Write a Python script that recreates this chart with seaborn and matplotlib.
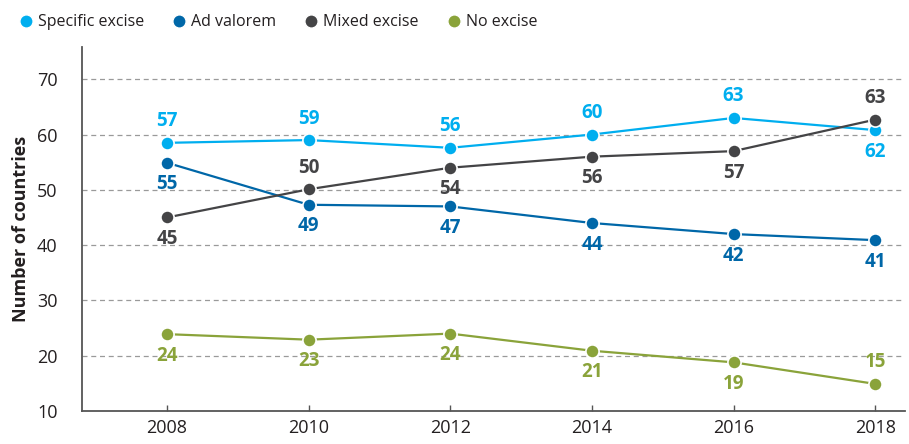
import pandas as pd
import seaborn as sns
import matplotlib.pyplot as plt

# Values as plotted in the reference, plus the labels printed next to each point
years = [2008, 2010, 2012, 2014, 2016, 2018]
specific_excise = [58.5, 59.0, 57.6, 60.0, 63.0, 60.8]
ad_valorem = [54.9, 47.3, 47.0, 44.0, 42.0, 40.9]
mixed_excise = [45.0, 50.1, 54.0, 56.0, 57.0, 62.7]
no_excise = [23.9, 22.9, 24.0, 20.9, 18.8, 14.9]

specific_labels = [57, 59, 56, 60, 63, 62]
ad_valorem_labels = [55, 49, 47, 44, 42, 41]
mixed_labels = [45, 50, 54, 56, 57, 63]
no_excise_labels = [24, 23, 24, 21, 19, 15]

series_names = ['Specific excise', 'Ad valorem', 'Mixed excise', 'No excise']
colors = ['#00AEEF', '#0067A8', '#444446', '#8AA33A']

# +1 = label above the point, -1 = label below
specific_side = [1, 1, 1, 1, 1, -1]
ad_valorem_side = [-1, -1, -1, -1, -1, -1]
mixed_side = [-1, 1, -1, -1, -1, 1]
no_excise_side = [-1, -1, -1, -1, -1, 1]

values = [specific_excise, ad_valorem, mixed_excise, no_excise]
labels = [specific_labels, ad_valorem_labels, mixed_labels, no_excise_labels]
sides = [specific_side, ad_valorem_side, mixed_side, no_excise_side]

df = pd.DataFrame({
    'year': years * 4,
    'value': specific_excise + ad_valorem + mixed_excise + no_excise,
    'series': [s for s in series_names for _ in years],
})

sns.set_style("white")
plt.rcParams['font.family'] = ['Open Sans', 'DejaVu Sans']

fig = plt.figure(figsize=(9.09, 4.44), dpi=100)
ax = fig.add_axes([0.0902, 0.0743, 0.9054, 0.8207])

sns.lineplot(data=df, x='year', y='value', hue='series', hue_order=series_names,
             palette=colors, marker='o', markersize=9.5, markeredgecolor='white',
             markeredgewidth=1.2, linewidth=1.6, ax=ax, legend=False, zorder=3)

for vals, labs, side, col in zip(values, labels, sides, colors):
    for x, v, lab, s in zip(years, vals, labs, side):
        ax.annotate(str(lab), (x, v), xytext=(0, 15.5 * s), textcoords='offset points',
                    ha='center', va='center', color=col, fontsize=13.5,
                    fontweight='bold', zorder=4)

ax.set_xlim(2006.8, 2018.42)
ax.set_ylim(10, 75.9)
ax.set_xticks(years)
ax.set_yticks(range(10, 80, 10))
for yv in range(20, 80, 10):
    ax.axhline(yv, color='#9a9a9a', linestyle=(0, (4, 3)), linewidth=0.9, zorder=1)

ax.tick_params(axis='x', bottom=True, direction='in', length=4.5, width=1,
               color='#555555', labelsize=13, labelcolor='#231F20', pad=6)
ax.tick_params(axis='y', left=False, labelsize=13, labelcolor='#231F20', pad=14)
for side_name in ['top', 'right']:
    ax.spines[side_name].set_visible(False)
for side_name in ['left', 'bottom']:
    ax.spines[side_name].set_color('#555555')
    ax.spines[side_name].set_linewidth(1.3)

ax.set_xlabel('')
ax.set_ylabel('Number of countries', fontsize=13, fontweight='bold',
              color='#231F20', labelpad=5)

handles = [plt.Line2D([], [], linestyle='', marker='o', markersize=9.5,
                      markerfacecolor=c, markeredgecolor='white') for c in colors]
fig.legend(handles, series_names, loc='upper left', bbox_to_anchor=(0.0, 1.0),
           ncol=4, frameon=False, fontsize=11.5, handletextpad=0.05,
           columnspacing=1.5, handlelength=1.4, labelcolor='#231F20')

fig.savefig('out.png', dpi=100)
